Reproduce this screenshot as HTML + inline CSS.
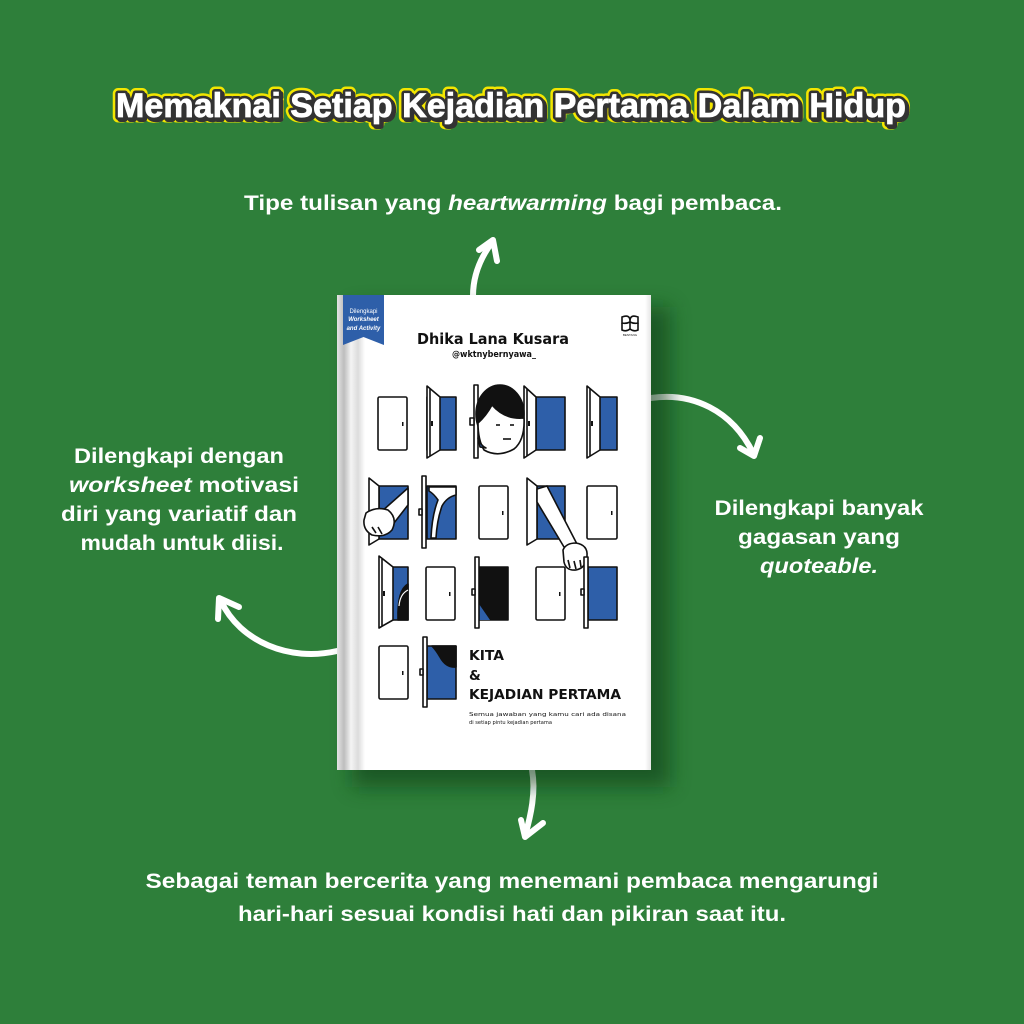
<!DOCTYPE html>
<html>
<head>
<meta charset="utf-8">
<style>
  html,body{margin:0;padding:0;background:#2e7f3a;}
  svg{display:block;}
  .t{font-family:"Liberation Sans",sans-serif;font-weight:bold;fill:#fff;font-size:21px;}
  .hand{font-family:"DejaVu Sans","Liberation Sans",sans-serif;fill:#111;}
</style>
</head>
<body>
<svg width="1024" height="1024" viewBox="0 0 1024 1024" xmlns="http://www.w3.org/2000/svg">
  <defs>
    <filter id="sh" x="-20%" y="-20%" width="140%" height="140%">
      <feGaussianBlur stdDeviation="10"/>
    </filter>
    <linearGradient id="spine" x1="0" x2="1" y1="0" y2="0">
      <stop offset="0" stop-color="#e4e4e4"/>
      <stop offset="0.25" stop-color="#bdbdbd"/>
      <stop offset="0.5" stop-color="#f4f4f4"/>
      <stop offset="0.75" stop-color="#dcdcdc"/>
      <stop offset="1" stop-color="#ffffff"/>
    </linearGradient>
    <linearGradient id="redge" x1="0" x2="1" y1="0" y2="0">
      <stop offset="0" stop-color="#ffffff"/>
      <stop offset="1" stop-color="#e6e6e6"/>
    </linearGradient>
  </defs>

  <rect width="1024" height="1024" fill="#2e7f3a"/>

  <!-- Title -->
  <g font-family="Liberation Sans, sans-serif" font-weight="bold" font-size="34">
    <text x="511" y="117" text-anchor="middle" textLength="790" lengthAdjust="spacingAndGlyphs" fill="#f3e600" stroke="#f3e600" stroke-width="11" stroke-linejoin="round">Memaknai Setiap Kejadian Pertama Dalam Hidup</text>
    <text x="513" y="119" text-anchor="middle" textLength="790" lengthAdjust="spacingAndGlyphs" fill="#333" stroke="#333" stroke-width="6" stroke-linejoin="round">Memaknai Setiap Kejadian Pertama Dalam Hidup</text>
    <text x="511" y="117" text-anchor="middle" textLength="790" lengthAdjust="spacingAndGlyphs" fill="#333" stroke="#333" stroke-width="6" stroke-linejoin="round">Memaknai Setiap Kejadian Pertama Dalam Hidup</text>
    <text x="511" y="117" text-anchor="middle" textLength="790" lengthAdjust="spacingAndGlyphs" fill="#ffffff" stroke="#ffffff" stroke-width="0.8">Memaknai Setiap Kejadian Pertama Dalam Hidup</text>
  </g>

  <!-- Top caption -->
  <text class="t" x="513" y="210" text-anchor="middle" textLength="538" lengthAdjust="spacingAndGlyphs">Tipe tulisan yang <tspan font-style="italic">heartwarming</tspan> bagi pembaca.</text>

  <!-- Left caption -->
  <text class="t" x="179" y="463" text-anchor="middle" textLength="210" lengthAdjust="spacingAndGlyphs">Dilengkapi dengan</text>
  <text class="t" x="184" y="492" text-anchor="middle" textLength="230" lengthAdjust="spacingAndGlyphs"><tspan font-style="italic">worksheet</tspan> motivasi</text>
  <text class="t" x="179" y="521" text-anchor="middle" textLength="236" lengthAdjust="spacingAndGlyphs">diri yang variatif dan</text>
  <text class="t" x="182" y="550" text-anchor="middle" textLength="203" lengthAdjust="spacingAndGlyphs">mudah untuk diisi.</text>

  <!-- Right caption -->
  <text class="t" x="819" y="515" text-anchor="middle" textLength="209" lengthAdjust="spacingAndGlyphs">Dilengkapi banyak</text>
  <text class="t" x="819" y="544" text-anchor="middle" textLength="162" lengthAdjust="spacingAndGlyphs">gagasan yang</text>
  <text class="t" x="819" y="573" text-anchor="middle" textLength="118" lengthAdjust="spacingAndGlyphs" font-style="italic">quoteable.</text>

  <!-- Bottom caption -->
  <text class="t" x="512" y="888" text-anchor="middle" textLength="733" lengthAdjust="spacingAndGlyphs">Sebagai teman bercerita yang menemani pembaca mengarungi</text>
  <text class="t" x="512" y="921" text-anchor="middle" textLength="548" lengthAdjust="spacingAndGlyphs">hari-hari sesuai kondisi hati dan pikiran saat itu.</text>

  <!-- Arrows -->
  <g fill="none" stroke="#fff" stroke-width="6" stroke-linecap="round" stroke-linejoin="round">
    <path d="M473,296 C473,276 480,258 493,241"/>
    <path d="M479,250 L493,240 L497,261"/>
    <path d="M651,398 C692,392 732,410 753,453"/>
    <path d="M740,448 L754,456 L760,438"/>
    <path d="M337,651 C290,662 240,642 221,601"/>
    <path d="M218,619 L219,598 L239,607"/>
    <path d="M532,770 C536,792 531,815 525,836"/>
    <path d="M521,820 L525,837 L543,823"/>
  </g>

  <!-- Book shadow -->
  <rect x="352" y="307" width="318" height="480" fill="#0f3d17" opacity="0.6" filter="url(#sh)"/>
  <!-- Book -->
  <rect x="337" y="295" width="314" height="475" fill="#ffffff"/>
  <rect x="337" y="295" width="28" height="475" fill="url(#spine)"/>
  <rect x="645" y="295" width="6" height="475" fill="url(#redge)"/>

  <!-- Ribbon -->
  <polygon points="343,295 384,295 384,345 363.5,337 343,345" fill="#2e5fa9"/>
  <g font-family="Liberation Sans, sans-serif" font-size="6" fill="#fff" text-anchor="middle">
    <text x="363.5" y="313">Dilengkapi</text>
    <text x="363.5" y="321" font-style="italic" font-weight="bold">Worksheet</text>
    <text x="363.5" y="330" font-style="italic" font-weight="bold">and Activity</text>
  </g>

  <!-- Publisher logo -->
  <g fill="none" stroke="#111" stroke-width="1.6">
    <path d="M622,317 Q630,314 630,321 Q630,314 638,317 L638,323 Q634,324 630,322 Q626,324 622,323 Z"/>
    <path d="M622,323 L622,330 Q626,332 630,329 Q634,332 638,330 L638,323"/>
    <line x1="630" y1="321" x2="630" y2="330"/>
  </g>
  <text x="630" y="336" font-family="Liberation Sans, sans-serif" font-size="3" text-anchor="middle" fill="#111">BENTANG</text>

  <!-- Author -->
  <text class="hand" x="417" y="344" font-size="15" font-weight="bold" textLength="152" lengthAdjust="spacingAndGlyphs">Dhika Lana Kusara</text>
  <text class="hand" x="452" y="357" font-size="8.5" font-weight="bold" textLength="84" lengthAdjust="spacingAndGlyphs">@wktnybernyawa_</text>

  <!-- DOORS -->
  <g stroke="#111" stroke-width="1.6" stroke-linejoin="round">
    <!-- Row 1 -->
    <rect x="378" y="397" width="29" height="53" rx="1.5" fill="#fff"/>
    <rect x="402" y="422" width="1.5" height="4" fill="#111" stroke="none"/>

    <rect x="427" y="397" width="29" height="53" fill="#2e5fa9"/>
    <polygon points="427,386 440,397 440,450 427,458" fill="#fff"/>
    <line x1="430" y1="389" x2="430" y2="456"/>
    <rect x="431" y="421" width="2" height="5" fill="#111" stroke="none"/>

    <rect x="536" y="397" width="29" height="53" fill="#2e5fa9"/>
    <polygon points="524,386 536,397 536,450 524,458" fill="#fff"/>
    <line x1="527" y1="389" x2="527" y2="456"/>
    <rect x="528" y="421" width="2" height="5" fill="#111" stroke="none"/>

    <rect x="588" y="397" width="29" height="53" fill="#2e5fa9"/>
    <polygon points="587,386 600,397 600,450 587,458" fill="#fff"/>
    <line x1="590" y1="389" x2="590" y2="456"/>
    <rect x="591" y="421" width="2" height="5" fill="#111" stroke="none"/>

    <!-- Face door -->
    <rect x="474" y="385" width="4" height="73" fill="#fff"/>
    <rect x="470" y="418" width="4" height="7" fill="#fff"/>
    <ellipse cx="500" cy="414" rx="24" ry="29" fill="#111"/>
    <path d="M478,423 Q486,416 492,405 Q505,420 524,418 Q525,440 514,449 Q498,458 484,450 Q478,440 478,423 Z" fill="#fff"/>
    <path d="M478,438 Q481,446 486,448 L480,447 Z" fill="#2e5fa9"/>
    <line x1="496" y1="425" x2="500" y2="425"/>
    <line x1="510" y1="425" x2="514" y2="425"/>
    <line x1="503" y1="439" x2="511" y2="439"/>

    <!-- Row 2 -->
    <rect x="379" y="486" width="29" height="53" fill="#2e5fa9"/>
    <polygon points="369,478 379,486 379,539 369,545" fill="#fff"/>
    <path d="M408,488 L408,505 L394,523 L381,512 Z" fill="#fff"/>
    <path d="M366,513 Q376,506 388,510 Q398,518 392,530 Q385,538 372,535 Q363,530 364,520 Z" fill="#fff"/>
    <path d="M372,527 L376,533 M378,527 L382,534" fill="none"/>

    <rect x="427" y="486" width="29" height="53" fill="#2e5fa9"/>
    <path d="M429,487 L456,487 L456,495 Q447,497 442,506 Q437,520 436,538 L431,538 Q432,515 438,500 Q434,494 429,491 Z" fill="#fff"/>
    <rect x="422" y="476" width="4" height="72" fill="#fff"/>
    <rect x="419" y="509" width="3" height="6" fill="#fff"/>

    <rect x="479" y="486" width="29" height="53" rx="1.5" fill="#fff"/>
    <rect x="502" y="511" width="1.5" height="4" fill="#111" stroke="none"/>

    <rect x="537" y="486" width="28" height="53" fill="#2e5fa9"/>
    <polygon points="527,478 537,486 537,539 527,545" fill="#fff"/>
    <path d="M537,489 L547,486 L578,546 L567,552 L537,502 Z" fill="#fff"/>
    <path d="M563,550 Q566,543 576,543 Q588,545 587,556 Q586,568 576,570 Q566,571 564,562 Z" fill="#fff"/>
    <path d="M568,560 L570,568 M574,561 L576,569 M580,560 L581,567" fill="none"/>

    <rect x="587" y="486" width="30" height="53" rx="1.5" fill="#fff"/>
    <rect x="611" y="511" width="1.5" height="4" fill="#111" stroke="none"/>

    <!-- Row 3 -->
    <rect x="392" y="567" width="16" height="53" fill="#2e5fa9"/>
    <path d="M408,584 Q397,590 398,620 L408,620 Z" fill="#111"/>
    <path d="M399,606 Q400,594 408,590" fill="none" stroke="#fff" stroke-width="1.2"/>
    <polygon points="379,556 393,567 393,620 379,628" fill="#fff"/>
    <line x1="382" y1="559" x2="382" y2="626"/>
    <rect x="383" y="591" width="2" height="5" fill="#111" stroke="none"/>

    <rect x="426" y="567" width="29" height="53" rx="1.5" fill="#fff"/>
    <rect x="449" y="592" width="1.5" height="4" fill="#111" stroke="none"/>

    <rect x="479" y="567" width="29" height="53" fill="#111"/>
    <polygon points="479,604 490,620 479,620" fill="#2e5fa9" stroke="none"/>
    <rect x="475" y="557" width="4" height="71" fill="#fff"/>
    <rect x="472" y="589" width="3" height="6" fill="#fff"/>

    <rect x="536" y="567" width="29" height="53" rx="1.5" fill="#fff"/>
    <rect x="559" y="592" width="1.5" height="4" fill="#111" stroke="none"/>

    <rect x="588" y="567" width="29" height="53" fill="#2e5fa9"/>
    <rect x="584" y="557" width="4" height="71" fill="#fff"/>
    <rect x="581" y="589" width="3" height="6" fill="#fff"/>

    <!-- Row 4 -->
    <rect x="379" y="646" width="29" height="53" rx="1.5" fill="#fff"/>
    <rect x="402" y="671" width="1.5" height="4" fill="#111" stroke="none"/>

    <rect x="427" y="646" width="29" height="53" fill="#2e5fa9"/>
    <path d="M432,646 L456,646 L456,667 Q446,668 440,657 Q436,650 432,646 Z" fill="#111"/>
    <rect x="423" y="637" width="4" height="70" fill="#fff"/>
    <rect x="420" y="669" width="3" height="6" fill="#fff"/>
  </g>

  <!-- Book title -->
  <text class="hand" x="469" y="660" font-size="13.5" font-weight="bold" textLength="35" lengthAdjust="spacingAndGlyphs">KITA</text>
  <text class="hand" x="469" y="680" font-size="13.5" font-weight="bold">&amp;</text>
  <text class="hand" x="469" y="699" font-size="13.5" font-weight="bold" textLength="152" lengthAdjust="spacingAndGlyphs">KEJADIAN PERTAMA</text>
  <text class="hand" x="469" y="716" font-size="5.5" textLength="157" lengthAdjust="spacingAndGlyphs">Semua jawaban yang kamu cari ada disana</text>
  <text class="hand" x="469" y="724" font-size="5.5" textLength="83" lengthAdjust="spacingAndGlyphs">di setiap pintu kejadian pertama</text>
</svg>
</body>
</html>
